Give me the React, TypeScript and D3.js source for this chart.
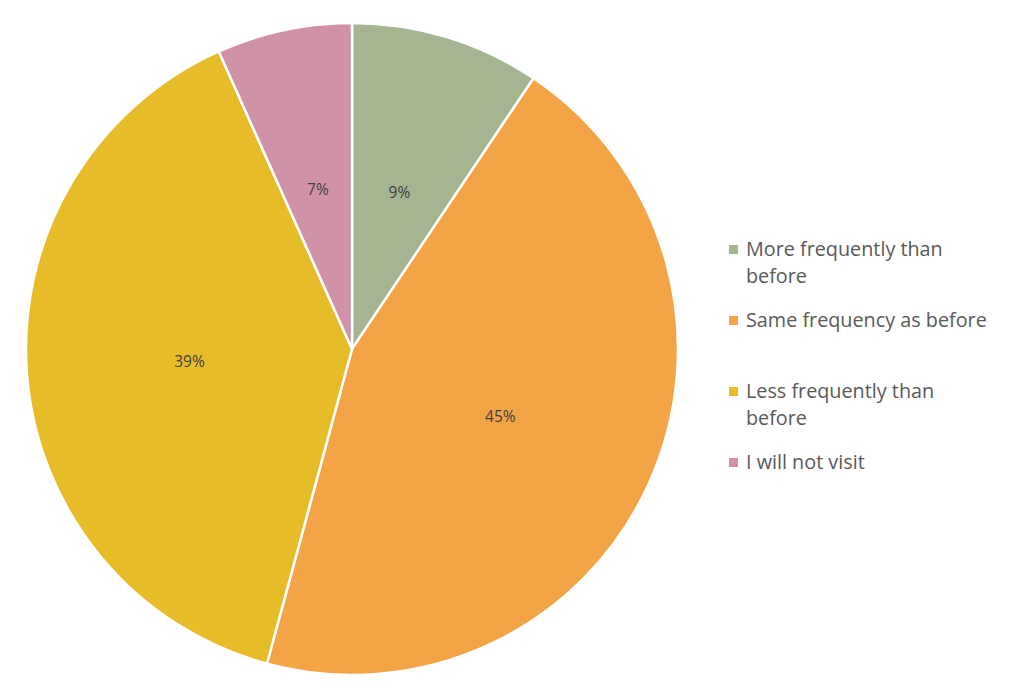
import React from "react";
import * as d3 from "d3";

const categories = ["More frequently than before", "Same frequency as before", "Less frequently than before", "I will not visit"];
const values = [9.4, 44.8, 39.1, 6.7];
const valueLabels = ["9%", "45%", "39%", "7%"];
const colors = ["#A5B592", "#F3A447", "#E7BC29", "#D092A7"];
const legendLines = [["More frequently than", "before"], ["Same frequency as before"], ["Less frequently than", "before"], ["I will not visit"]];
const legendY = [249, 320, 391, 462];

export default function App() {
  const W = 1022, H = 698;
  const cx = 352, cy = 349, r = 326;
  const pie = d3.pie<number>().sort(null).value((d) => d);
  const arcs = pie(values);
  const arc = d3.arc<d3.PieArcDatum<number>>().innerRadius(0).outerRadius(r);
  const labelArc = d3.arc<d3.PieArcDatum<number>>().innerRadius(r * 0.5).outerRadius(r * 0.5);
  const font = "'Open Sans', sans-serif";
  return (
    <svg width={W} height={H} style={{ position: "absolute", left: 0, top: 0, background: "#fff" }}>
      <g transform={`translate(${cx},${cy})`}>
        {arcs.map((a, i) => (
          <path key={i} d={arc(a) || ""} fill={colors[i]} stroke="#fff" strokeWidth={2.5} />
        ))}
        {arcs.map((a, i) => {
          const [x, y] = labelArc.centroid(a);
          return (
            <text key={"l" + i} x={x} y={y - 1} textAnchor="middle" dominantBaseline="central" fontFamily={font} fontSize={15.5} fill="#404040">
              {valueLabels[i]}
            </text>
          );
        })}
      </g>
      {categories.map((c, i) => (
        <g key={c}>
          <rect x={729} y={legendY[i] - 4} width={9} height={9} fill={colors[i]} />
          {legendLines[i].map((ln, j) => (
            <text key={j} x={746} y={legendY[i] - 1 + j * 27} dominantBaseline="central" fontFamily={font} fontSize={19.8} fill="#595959">
              {ln}
            </text>
          ))}
        </g>
      ))}
    </svg>
  );
}
